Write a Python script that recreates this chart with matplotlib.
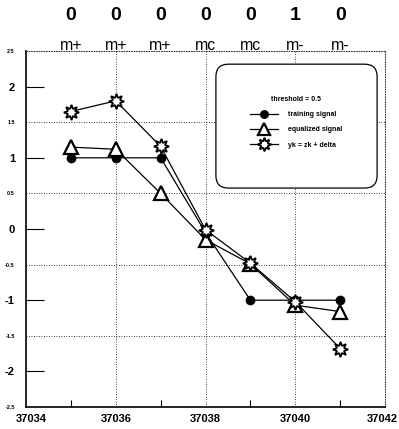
import matplotlib.pyplot as plt
import numpy as np
from matplotlib.patches import FancyBboxPatch
import matplotlib.transforms as mtransforms

plt.rcParams['font.family'] = ['Liberation Sans', 'DejaVu Sans']

# Data
x = [37035, 37036, 37037, 37038, 37039, 37040, 37041]
training = [1.0, 1.0, 1.0, -0.05, -1.0, -1.0, -1.0]
equalized = [1.15, 1.12, 0.50, -0.15, -0.49, -1.07, -1.16]
yk = [1.65, 1.80, 1.16, -0.01, -0.48, -1.02, -1.68]
bits = ['0', '0', '0', '0', '0', '1', '0']
symbols = ['m+', 'm+', 'm+', 'mc', 'mc', 'm-', 'm-']
xtick_vals = [37034, 37036, 37038, 37040, 37042]
ytick_vals = [-2.5, -2, -1.5, -1, -0.5, 0, 0.5, 1, 1.5, 2, 2.5]

fig = plt.figure(figsize=(3.99, 4.29), dpi=100)
ax = fig.add_axes([26 / 399, 22 / 429, 359 / 399, 356 / 429])

ax.set_xlim(37034, 37042)
ax.set_ylim(-2.5, 2.5)

# dotted grid at even x and half-integer y
for gx in [37036, 37038, 37040]:
    ax.axvline(gx, color='black', lw=0.6, ls=(0, (1, 2)), zorder=0)
for gy in [1.5, 0.5, -0.5, -1.5]:
    ax.axhline(gy, color='black', lw=0.6, ls=(0, (1, 2)), zorder=0)

ax.plot(x, training, color='black', lw=0.9, marker='o', ms=6,
        mfc='black', mec='black', label='training signal', zorder=3)
ax.plot(x, equalized, color='black', lw=0.9, marker='^', ms=10,
        mfc='white', mec='black', mew=1.6, label='equalized signal', zorder=4)
ax.plot(x, yk, color='black', lw=0.9, marker=(8, 1, 0), ms=11,
        mfc='white', mec='black', mew=1.3, label='yk = zk + delta', zorder=5)

# spines
for s in ['top', 'right']:
    ax.spines[s].set_linestyle((0, (1, 2)))
    ax.spines[s].set_linewidth(0.6)
for s in ['left', 'bottom']:
    ax.spines[s].set_linewidth(1.2)

# x ticks
ax.set_xticks(xtick_vals)
ax.set_xticklabels([str(v) for v in xtick_vals], fontsize=8, fontweight='bold')
ax.set_xticks([37035, 37037, 37039, 37041], minor=True)
ax.tick_params(axis='x', which='major', length=0, pad=5)
ax.tick_params(axis='x', which='minor', direction='in', length=5, width=0.8)
xlabs = ax.get_xticklabels()
xlabs[0].set_transform(xlabs[0].get_transform() +
                       mtransforms.ScaledTranslation(0.05, 0, fig.dpi_scale_trans))
xlabs[-1].set_transform(xlabs[-1].get_transform() +
                        mtransforms.ScaledTranslation(-0.03, 0, fig.dpi_scale_trans))

# y ticks
ax.set_yticks(ytick_vals)
ax.set_yticklabels([('%g' % v) for v in ytick_vals])
ax.tick_params(axis='y', direction='in', length=13, width=0.8, pad=8)
for val, lab, tk in zip(ytick_vals, ax.get_yticklabels(), ax.yaxis.get_major_ticks()):
    lab.set_fontweight('bold')
    if float(val).is_integer():
        lab.set_fontsize(8)
    else:
        lab.set_fontsize(4)
    if not (float(val).is_integer() and abs(val) < 2.5):
        tk.tick1line.set_visible(False)

# labels above plot
trans = mtransforms.blended_transform_factory(ax.transData, ax.transAxes)
for xi, b, s in zip(x, bits, symbols):
    ax.text(xi, 1.10, b, transform=trans, ha='center', va='center',
            fontsize=14, fontweight='bold', clip_on=False)
    ax.text(xi, 1.015, s, transform=trans, ha='center', va='center',
            fontsize=11.5, clip_on=False)

# legend box
box = FancyBboxPatch((0.529, 0.615), 0.449, 0.348,
                     boxstyle='round,pad=0,rounding_size=0.035',
                     transform=ax.transAxes, fc='white', ec='black',
                     lw=0.9, zorder=6)
ax.add_patch(box)
leg = ax.legend(loc='center', bbox_to_anchor=(0.753, 0.80), frameon=False,
                title='threshold = 0.5', fontsize=5, title_fontsize=5,
                handlelength=4, labelspacing=1.2, handletextpad=1.5,
                markerscale=0.9)
leg.get_title().set_fontweight('bold')
for t in leg.get_texts():
    t.set_fontweight('bold')
leg.set_zorder(7)

fig.savefig('out.png', dpi=100)
